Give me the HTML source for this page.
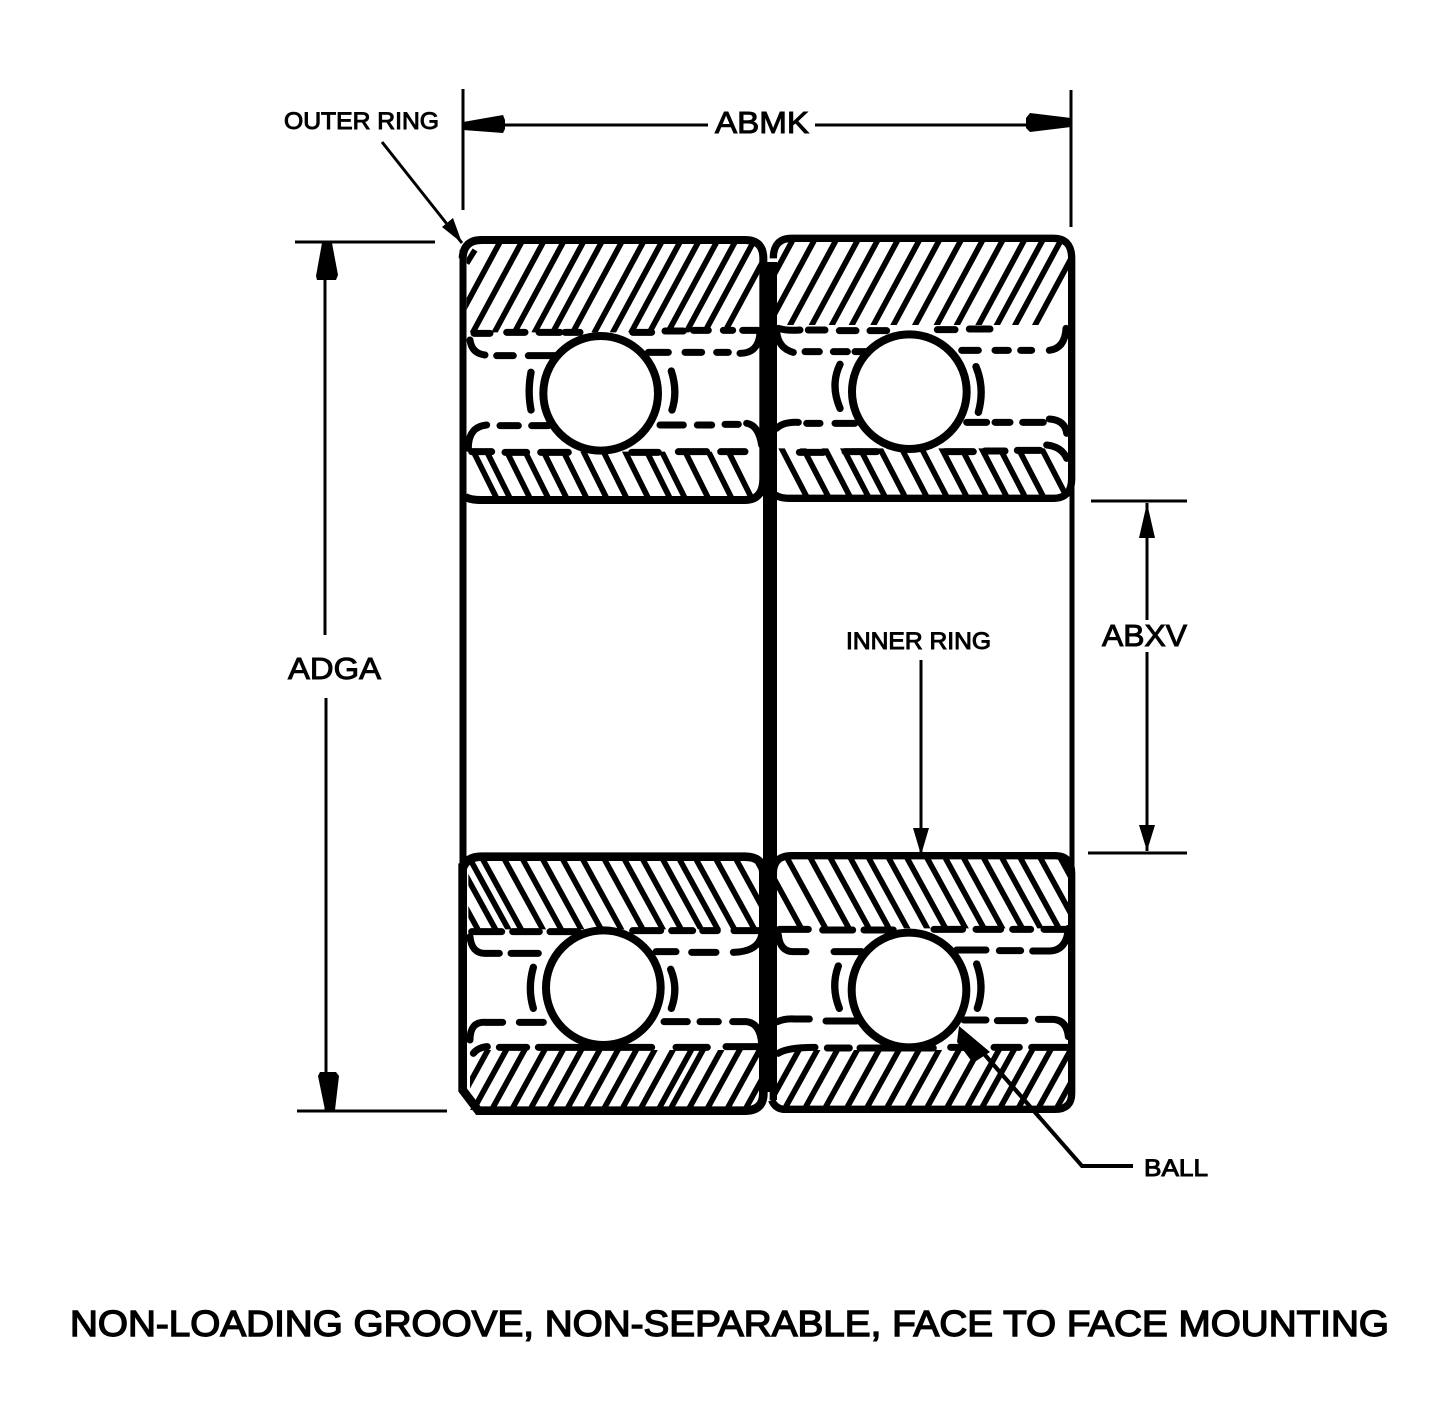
<!DOCTYPE html>
<html><head><meta charset="utf-8"><style>html,body{margin:0;padding:0;background:#fff}svg{display:block}text{font-family:"Liberation Sans",sans-serif;fill:#000;stroke:#000;stroke-width:1}</style></head><body>
<svg xmlns="http://www.w3.org/2000/svg" width="1432" height="1424" viewBox="0 0 1432 1424">
<defs>
<clipPath id="ca"><path d="M50 45H930V322H50Z"/></clipPath>
<clipPath id="cb"><path d="M50 680H930V830H50Z"/></clipPath>
<clipPath id="cc"><path d="M45 45H925V300H45Z"/></clipPath>
<clipPath id="cd"><path d="M45 670H925V820H45Z"/></clipPath>
<clipPath id="ce"><path d="M55 50H935V268H55Z"/></clipPath>
<clipPath id="cf"><path d="M60 630H930V810H60Z"/></clipPath>
<clipPath id="cg"><path d="M50 50H925V265H50Z"/></clipPath>
<clipPath id="ch"><path d="M50 630H930V805H50Z"/></clipPath>
</defs>
<rect width="1432" height="1424" fill="#fff"/>

<!-- Dimension lines -->
<g stroke="#000" fill="none" stroke-width="3">
<path d="M463 89V210M1071 90V227"/>
<path d="M463 125H708M815 125H1071"/>
<path d="M295 242H435M297 1111H447"/>
<path d="M325 243V635M326 698V1110"/>
<path d="M1091 501H1187M1088 853H1187"/>
<path d="M1147 503V620M1147 652V851"/>
<path d="M921 660V855"/>
<path d="M382 142L462 243"/>
<path d="M985 1055L1082 1166H1133" stroke-width="4"/>
</g>
<g fill="#000">
<path d="M463 122L503 115L505 120V129L503 133L463 130Z"/>
<path d="M1071 118L1030 113L1026 118V128L1030 132L1071 127Z"/>
<path d="M322 243H332L338 275L336 280H317L316 276Z"/>
<path d="M325 1110H335L339 1076L336 1072H320L318 1076Z"/>
<path d="M1147 503L1155 538H1139Z"/>
<path d="M1147 851L1155 825H1139Z"/>
<path d="M921 855L929 828H913Z"/>
<path d="M462 243L442 227L453 218Z"/>
</g>

<!-- Frame verticals -->
<g stroke="#000" fill="none">
<path d="M463 250V1092" stroke-width="7"/>
<path d="M770 262V1092" stroke-width="14"/>
<path d="M1072 250V1100" stroke-width="5"/>
</g>

<!-- Top left -->
<g transform="translate(450,225) scale(.33333)" fill="none" stroke="#000">
<g clip-path="url(#ca)" stroke-width="17">
<path d="M156 40L2 325M221 40L67 325M286 40L132 325M346 40L192 325M406 40L252 325M461 40L307 325M521 40L367 325M586 40L432 325M641 40L487 325M696 40L542 325M751 40L597 325M806 40L652 325M861 40L707 325M916 40L762 325M976 40L822 325"/>
<path d="M75 75L50 115"/>
</g>
<g clip-path="url(#cb)" stroke-width="17">
<path d="M68 675L145 830M108 675L185 830M168 675L245 830M223 675L300 830M278 675L355 830M338 675L415 830M398 675L475 830M458 675L535 830M523 675L600 830M588 675L665 830M633 675L710 830M703 675L780 830M773 675L850 830M833 675L910 830"/>
</g>
<path d="M38 100Q40 45 95 45H885Q940 45 940 100V760Q940 825 885 825H95Q60 825 45 815" stroke-width="24"/>
<g stroke-width="21" stroke-linecap="round">
<path d="M72 325H120M170 322H225M267 322H330M345 322H390M548 322H605M645 318H700M730 316H775M820 316H848M878 316H925"/>
<path d="M60 345Q65 385 105 390M140 392H190M235 392H315M595 382H655M705 382H755M800 382H835M870 385Q925 385 930 325"/>
<path d="M55 670Q55 605 110 600M150 602H205M245 602H295M630 600H700M742 600H785M825 598H865M890 595Q925 600 935 660"/>
<path d="M65 680H125M165 682H230M272 682H355M545 682H625M685 680H770M812 680H885"/>
</g>
<circle cx="452" cy="505" r="172" fill="#fff" stroke-width="24"/>
<g stroke-width="22" stroke-linecap="round">
<path d="M243 442Q232 500 243 555"/>
<path d="M664 438Q684 500 666 555"/>
</g>
</g>

<!-- Top right -->
<g transform="translate(760,225) scale(.33333)" fill="none" stroke="#000">
<g clip-path="url(#cc)" stroke-width="17">
<path d="M101 40L-53 325M166 40L12 325M231 40L77 325M296 40L142 325M356 40L202 325M416 40L262 325M481 40L327 325M541 40L387 325M606 40L452 325M671 40L517 325M731 40L577 325M796 40L642 325M851 40L697 325M906 40L752 325M966 40L812 325"/>
</g>
<g clip-path="url(#cd)" stroke-width="17">
<path d="M62 665L140 815M127 665L205 815M192 665L270 815M247 665L325 815M297 665L375 815M357 665L435 815M422 665L500 815M482 665L560 815M542 665L620 815M602 665L680 815M662 665L740 815M717 665L795 815M772 665L850 815M842 665L920 815"/>
</g>
<path d="M40 100Q40 40 95 40H880Q935 40 935 100V760Q935 820 880 820H90Q50 820 35 800" stroke-width="22"/>
<g stroke-width="21" stroke-linecap="round">
<path d="M55 310Q80 318 120 315M145 315H195M238 317H288M330 317H380M532 314H585M628 312H690"/>
<path d="M50 320Q55 370 100 382M135 380H178M220 380H262M285 380H320M605 376H655M705 376H745M782 376H815M868 376Q915 370 918 310"/>
<path d="M50 610Q70 590 115 592M140 595H180M225 595H285M620 592H680M705 592H750M788 592H850M868 582Q915 585 920 625"/>
<path d="M118 682H190M255 680H350M555 680H640M675 678H735M772 676H840M860 660Q905 665 920 700"/>
</g>
<circle cx="448" cy="500" r="172" fill="#fff" stroke-width="24"/>
<g stroke-width="22" stroke-linecap="round">
<path d="M240 418Q210 480 240 550"/>
<path d="M648 425Q675 490 655 562"/>
</g>
</g>

<!-- Bottom left -->
<g transform="translate(450,840) scale(.33333)" fill="none" stroke="#000">
<g clip-path="url(#ce)" stroke-width="17">
<path d="M-36 50L90 280M17 50L143 280M56 50L182 280M94 50L220 280M159 50L285 280M214 50L340 280M274 50L400 280M334 50L460 280M394 50L520 280M459 50L585 280M519 50L645 280M574 50L700 280M634 50L760 280M684 50L810 280M734 50L860 280M794 50L920 280M854 50L980 280M914 50L1040 280"/>
</g>
<g clip-path="url(#cf)" stroke-width="17">
<path d="M122 615L12 815M177 615L67 815M232 615L122 815M292 615L182 815M347 615L237 815M402 615L292 815M457 615L347 815M512 615L402 815M567 615L457 815M622 615L512 815M677 615L567 815M732 615L622 815M767 615L657 815M822 615L712 815M877 615L767 815M937 615L827 815M992 615L882 815"/>
</g>
<path d="M38 70V750L85 812H885Q940 812 940 760V100Q940 50 885 50H95Q50 50 38 85" stroke-width="26"/>
<g stroke-width="21" stroke-linecap="round">
<path d="M65 275H155M188 275H268M300 275H385M548 272H632M665 272H728M758 272H802M852 272H930"/>
<path d="M60 290Q65 340 105 340H148M183 340H265M618 335H678M725 337H798M850 337Q925 335 935 285"/>
<path d="M60 600Q60 545 105 547H158M208 547H280M642 545H712M750 545H805M848 545H890Q930 550 935 610"/>
<path d="M70 640Q85 622 112 620M148 622H230M265 622H605M678 622H772M828 620H925"/>
</g>
<circle cx="460" cy="443" r="172" fill="#fff" stroke-width="24"/>
<g stroke-width="22" stroke-linecap="round">
<path d="M250 382Q232 445 250 505"/>
<path d="M662 388Q686 445 664 505"/>
</g>
</g>

<!-- Bottom right -->
<g transform="translate(760,840) scale(.33333)" fill="none" stroke="#000">
<g clip-path="url(#cg)" stroke-width="17">
<path d="M6 50L132 280M79 50L205 280M149 50L275 280M209 50L335 280M269 50L395 280M324 50L450 280M384 50L510 280M439 50L565 280M499 50L625 280M554 50L680 280M609 50L735 280M669 50L795 280M724 50L850 280M779 50L905 280M839 50L965 280M899 50L1025 280"/>
</g>
<g clip-path="url(#ch)" stroke-width="17">
<path d="M125 615L17 810M180 615L72 810M240 615L132 810M300 615L192 810M365 615L257 810M425 615L317 810M485 615L377 810M545 615L437 810M605 615L497 810M665 615L557 810M725 615L617 810M770 615L662 810M825 615L717 810M880 615L772 810M940 615L832 810M995 615L887 810"/>
</g>
<path d="M40 780V100Q40 47 95 47H885Q935 47 935 100V760Q935 808 885 808H70Q45 805 35 780" stroke-width="22"/>
<g stroke-width="21" stroke-linecap="round">
<path d="M58 268H145M188 270H278M312 270H400M522 268H608M648 268H722M758 268H812M852 268H925"/>
<path d="M55 285Q60 335 100 335H138M222 335H305M590 330H678M718 332H782M818 333H870Q920 330 925 265"/>
<path d="M52 545Q75 535 105 537H148M198 543H290M612 540H678M712 542H795M835 538H880Q920 540 925 590"/>
<path d="M55 640Q80 622 165 622M202 624H268M300 624H520M572 622H638M702 622H778M815 622H930"/>
</g>
<circle cx="447" cy="450" r="172" fill="#fff" stroke-width="24"/>
<g stroke-width="22" stroke-linecap="round">
<path d="M235 378Q212 440 238 505"/>
<path d="M650 372Q675 440 652 505"/>
</g>
</g>
<path d="M959 1026L990 1052L973 1063L957 1042Z" fill="#000"/>
<path d="M985 1055L1040 1118" stroke="#000" stroke-width="4"/>

<!-- Labels -->
<text x="284" y="129" font-size="24" textLength="155" lengthAdjust="spacingAndGlyphs">OUTER RING</text>
<text x="715" y="133" font-size="31" textLength="94" lengthAdjust="spacingAndGlyphs">ABMK</text>
<text x="288" y="679" font-size="31" textLength="93" lengthAdjust="spacingAndGlyphs">ADGA</text>
<text x="1102" y="646" font-size="31" textLength="85" lengthAdjust="spacingAndGlyphs">ABXV</text>
<text x="846" y="649" font-size="24" textLength="145" lengthAdjust="spacingAndGlyphs">INNER RING</text>
<text x="1144" y="1176" font-size="24" textLength="64" lengthAdjust="spacingAndGlyphs">BALL</text>
<text x="70" y="1336" font-size="36" textLength="1319" lengthAdjust="spacingAndGlyphs" style="stroke-width:1.4">NON-LOADING GROOVE, NON-SEPARABLE, FACE TO FACE MOUNTING</text>
</svg>
</body></html>
